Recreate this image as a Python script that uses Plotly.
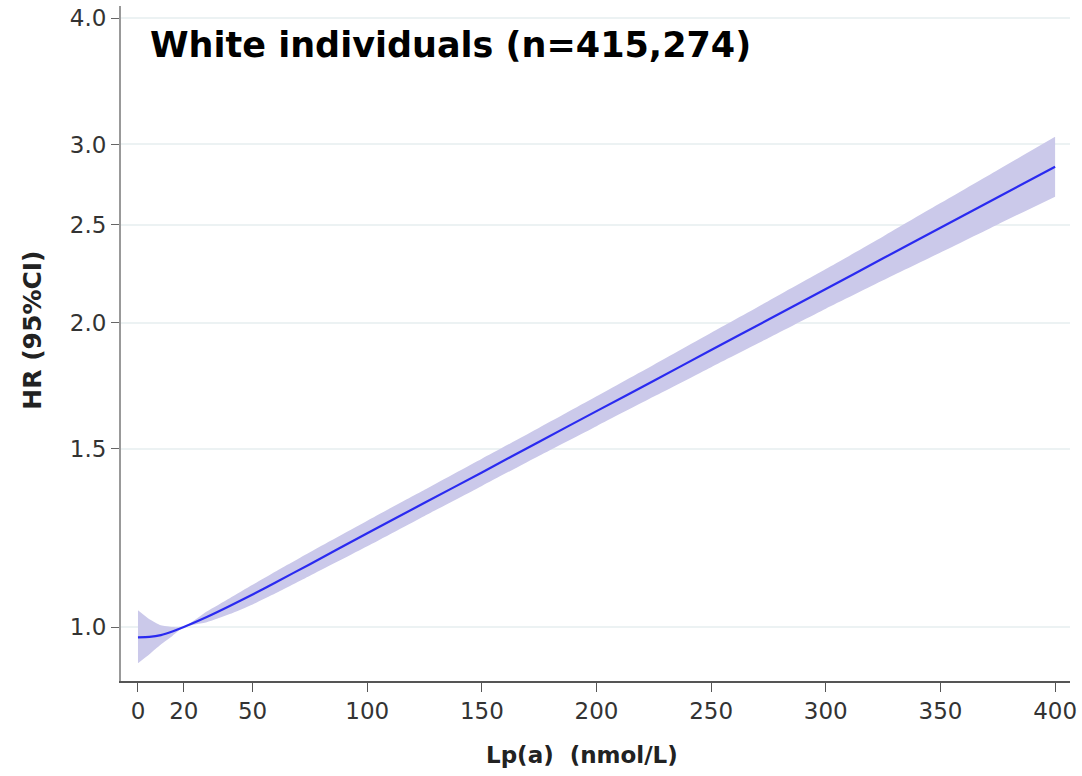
import plotly.graph_objects as go

# Data
lpa = [0, 5, 10, 15, 20, 30, 40, 50, 60, 75, 100, 125, 150, 175, 200,
       225, 250, 275, 300, 325, 350, 375, 400]
hr = [0.977, 0.978, 0.982, 0.990, 1.000, 1.023, 1.049, 1.077, 1.107, 1.154,
      1.238, 1.327, 1.422, 1.525, 1.635, 1.752, 1.879, 2.014, 2.159, 2.315,
      2.482, 2.660, 2.852]
hr_upper = [1.039, 1.018, 1.004, 1.000, 1.000, 1.036, 1.068, 1.101, 1.135,
            1.186, 1.274, 1.367, 1.467, 1.574, 1.691, 1.817, 1.954, 2.101,
            2.259, 2.433, 2.625, 2.831, 3.053]
hr_lower = [0.921, 0.940, 0.961, 0.980, 1.000, 1.011, 1.030, 1.053, 1.080,
            1.124, 1.202, 1.288, 1.379, 1.477, 1.580, 1.690, 1.807, 1.931,
            2.064, 2.202, 2.346, 2.501, 2.664]

x_ticks = [0, 20, 50, 100, 150, 200, 250, 300, 350, 400]
y_ticks = [1.0, 1.5, 2.0, 2.5, 3.0, 4.0]
y_ticktext = ["1.0", "1.5", "2.0", "2.5", "3.0", "4.0"]

title_text = "White individuals (n=415,274)"
x_title = "Lp(a)\u00a0 (nmol/L)"
y_title = "HR (95%CI)"

fig = go.Figure()
fig.add_trace(go.Scatter(x=lpa, y=hr_lower, mode="lines",
                         line=dict(width=0, color="rgba(0,0,0,0)", shape="spline", smoothing=0.5),
                         hoverinfo="skip", showlegend=False))
fig.add_trace(go.Scatter(x=lpa, y=hr_upper, mode="lines", fill="tonexty",
                         fillcolor="#cbc9ea",
                         line=dict(width=0, color="rgba(0,0,0,0)", shape="spline", smoothing=0.5),
                         hoverinfo="skip", showlegend=False))
fig.add_trace(go.Scatter(x=lpa, y=hr, mode="lines",
                         line=dict(color="#2a2af0", width=2.2, shape="spline", smoothing=0.5),
                         showlegend=False))

L, R, T, B = 121, 10, 5, 95
W, H = 1082, 776
pw, ph = W - L - R, H - T - B

def px_x(p):
    return (p - L) / pw

def px_y(p):
    return (H - B - p) / ph

tick_font = dict(family="DejaVu Sans", size=23, color="#333333")

fig.update_layout(
    width=W, height=H,
    margin=dict(l=L, r=R, t=T, b=B),
    paper_bgcolor="white", plot_bgcolor="white",
    xaxis=dict(range=[-7.4, 406.5], tickvals=x_ticks,
               showgrid=False, zeroline=False,
               showline=True, linecolor="#555555", linewidth=1.5,
               ticks="outside", ticklen=9, tickcolor="#555555", tickwidth=1.2,
               tickfont=tick_font),
    yaxis=dict(type="log", range=[-0.0533, 0.614],
               tickvals=y_ticks, ticktext=y_ticktext,
               showgrid=True, gridcolor="#ecf2f3", gridwidth=2,
               zeroline=False,
               showline=True, linecolor="#999999", linewidth=2,
               ticks="outside", ticklen=8, tickcolor="#666666", tickwidth=1.2,
               tickfont=tick_font),
    annotations=[
        dict(text=title_text, xref="paper", yref="paper",
             x=px_x(148), y=px_y(44), xanchor="left", yanchor="middle",
             showarrow=False,
             font=dict(family="DejaVu Sans", size=35, color="black", weight="bold")),
        dict(text=x_title, xref="paper", yref="paper",
             x=px_x(583), y=px_y(755), xanchor="center", yanchor="middle",
             showarrow=False,
             font=dict(family="DejaVu Sans", size=23, color="#222222", weight="bold")),
        dict(text=y_title, xref="paper", yref="paper",
             x=px_x(32), y=px_y(330), xanchor="center", yanchor="middle",
             textangle=-90, showarrow=False,
             font=dict(family="DejaVu Sans", size=25, color="#222222", weight="bold")),
    ],
)

fig.write_html("out.html")
